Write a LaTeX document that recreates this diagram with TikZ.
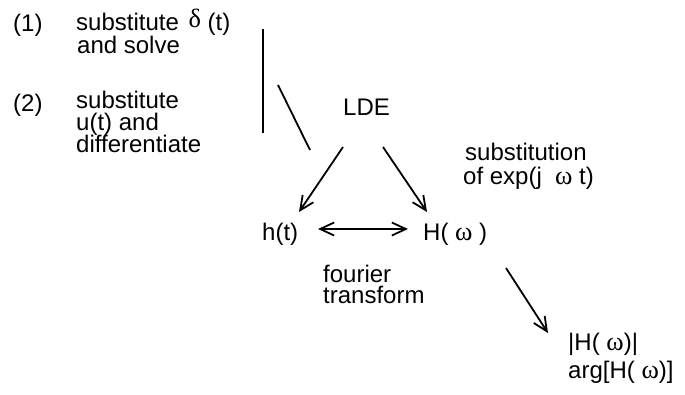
\documentclass[tikz,border=0pt]{standalone}
\usepackage{fontspec}
\setmainfont{Liberation Sans}
\newfontfamily\grk[Scale=1.1]{Liberation Serif}
\usetikzlibrary{arrows.meta}
\begin{document}
\begin{tikzpicture}[x=1pt,y=-1pt,
  lbl/.style={anchor=base west,inner sep=0pt,font=\fontsize{24}{24}\selectfont},
  conn/.style={line width=1.8pt},
  tipv/.tip={Straight Barb[length=14pt,width=13pt,line width=1.8pt]},
  arr/.style={conn,-tipv},
  dbl/.style={conn,tipv-tipv}]
\useasboundingbox (0,0) rectangle (685,394);
% left texts
\node[lbl] (n1) at (13,31) {(1)};
\node[lbl] (s1a) at (76,30.7) {substitute\hspace{0.4em}\raisebox{3pt}{\grk δ} (t)};
\node[lbl] (s1b) at (77,53) {and solve};
\node[lbl] (n2) at (13,111) {(2)};
\node[lbl] (s2a) at (76,108) {substitute};
\node[lbl] (s2b) at (76,130) {u(t) and};
\node[lbl] (s2c) at (76,152.5) {differentiate};
% main nodes
\node[lbl] (lde) at (343,115) {LDE};
\node[lbl] (ht) at (262,240) {h(t)};
\node[lbl] (Hw) at (423,240) {H(\ {\grk ω}\ )};
\node[lbl] (sub1) at (465,160) {substitution};
\node[lbl] (sub2) at (463,184) {of exp(j\hspace{0.55em}{\grk ω} t)};
\node[lbl] (f1) at (323,282) {fourier};
\node[lbl] (f2) at (323,303) {transform};
\node[lbl] (mag) at (568,350) {|H( {\grk ω})|};
\node[lbl] (arg) at (568,378) {arg[H( {\grk ω})]};
% connector end points
\coordinate (v1) at (263,29);
\coordinate (v2) at (263,133);
\coordinate (d1) at (278,85);
\coordinate (d2) at (310,150);
\coordinate (a1s) at (343,147);
\coordinate (a1e) at (299,212);
\coordinate (a2s) at (383,147);
\coordinate (a2e) at (427,212);
\coordinate (b1) at (318,229);
\coordinate (b2) at (408,229);
\coordinate (a3s) at (506,268);
\coordinate (a3e) at (548,333);
% connectors
\draw[conn] (v1) -- (v2);
\draw[conn] (d1) -- (d2);
\draw[arr] (a1s) -- (a1e);
\draw[arr] (a2s) -- (a2e);
\draw[dbl] (b1) -- (b2);
\draw[arr] (a3s) -- (a3e);
\end{tikzpicture}
\end{document}
